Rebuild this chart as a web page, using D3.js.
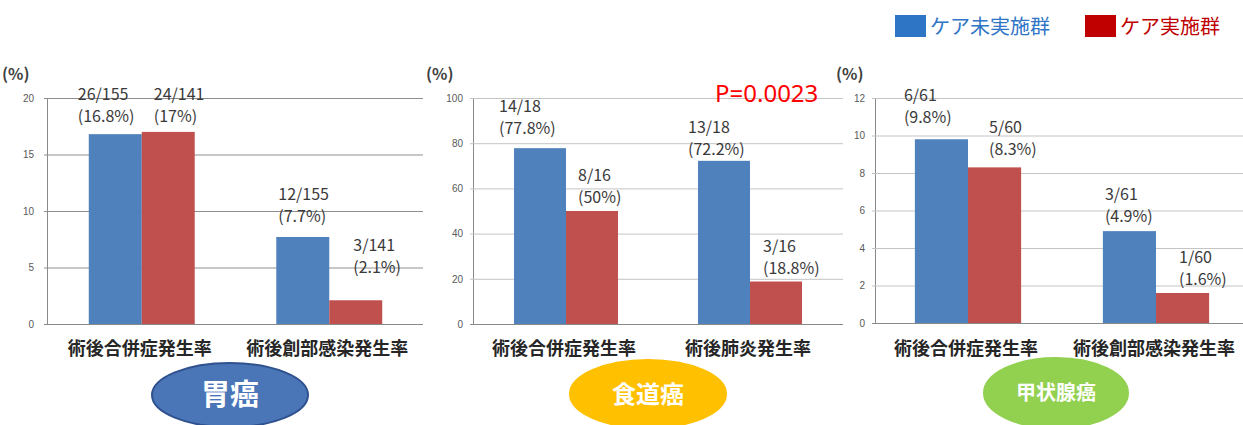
<!DOCTYPE html>
<html>
<head>
<meta charset="utf-8">
<script src="https://cdn.jsdelivr.net/npm/d3@7"></script>
<style>
  body { margin: 0; background: #fff; }
  svg { display: block; font-family: "Noto Sans CJK JP", "Noto Sans", sans-serif; }
</style>
</head>
<body>
<div id="chart"></div>
<script>
// data
const cancerNames = ["胃癌", "食道癌", "甲状腺癌"];
const categories = [
  ["術後合併症発生率", "術後創部感染発生率"],
  ["術後合併症発生率", "術後肺炎発生率"],
  ["術後合併症発生率", "術後創部感染発生率"]
];
const seriesNames = ["ケア未実施群", "ケア実施群"];
const noCareValues = [[16.8, 7.7], [77.8, 72.2], [9.8, 4.9]];
const careValues = [[17, 2.1], [50, 18.8], [8.3, 1.6]];
const noCareCounts = [["26/155", "12/155"], ["14/18", "13/18"], ["6/61", "3/61"]];
const careCounts = [["24/141", "3/141"], ["8/16", "3/16"], ["5/60", "1/60"]];
const yMaxes = [20, 100, 12];
const yTicks = [[0, 5, 10, 15, 20], [0, 20, 40, 60, 80, 100], [0, 2, 4, 6, 8, 10, 12]];
const pValueText = "P=0.0023";

// layout
const W = 1243, H = 425;
const panels = [
  { axisX: 47, gridR: 423, band: [48, 423], yTop: 98, yBot: 324, gridColor: "#8f8f8f", tickPad: 13 },
  { axisX: 473, gridR: 843, band: [474, 842], yTop: 98, yBot: 324, gridColor: "#c4c4c4", tickPad: 10 },
  { axisX: 875, gridR: 1243, band: [874, 1250], yTop: 98, yBot: 323, gridColor: "#c4c4c4", tickPad: 10 }
];
const pctLabelX = [2, 426, 836];
// label offsets [dx from bar left, dy of second line from bar top] for [noCare, care]
const labelOffsets = [
  [[[-11, -12], [12, -10]], [[2, -15], [24, -27]]],
  [[[-15, -14], [12, -8]], [[-10, -6], [13, -8]]],
  [[[-11, -16], [21, -12]], [[2, -9], [23, -8]]]
];
const ovals = [
  { cx: 230, cy: 395, rx: 78, ry: 32, fill: "#4a76b8", stroke: "#2f528f", size: 29 },
  { cx: 648, cy: 394, rx: 78, ry: 34, fill: "#ffc000", stroke: "#ffc000", size: 24 },
  { cx: 1056, cy: 393, rx: 72, ry: 35, fill: "#92d050", stroke: "#92d050", size: 20 }
];
const barColors = ["#4f81bd", "#c0504d"];
const legendColors = ["#2e75c6", "#c00000"];

const svg = d3.select("#chart").append("svg")
  .attr("width", W)
  .attr("height", H);

function pct(v) { return "(" + v + "%)"; }

panels.forEach((p, i) => {
  const g = svg.append("g");
  const y = d3.scaleLinear().domain([0, yMaxes[i]]).range([p.yBot, p.yTop]);
  const x = d3.scaleBand().domain(categories[i]).range(p.band)
    .paddingInner(0.435).paddingOuter(0.2175);
  const xs = d3.scaleBand().domain(seriesNames).range([0, x.bandwidth()]);

  // gridlines + tick labels
  const axis = d3.axisLeft(y).tickValues(yTicks[i])
    .tickSize(-(p.gridR - p.axisX)).tickSizeOuter(0).tickPadding(p.tickPad);
  const ag = g.append("g")
    .attr("transform", `translate(${p.axisX},0)`)
    .call(axis);
  ag.select(".domain").attr("stroke", "#8a8a8a");
  ag.selectAll(".tick line").attr("stroke", p.gridColor).attr("x1", -3);
  ag.selectAll(".tick").filter(d => d === 0).select("line").attr("stroke", "#8a8a8a");
  ag.selectAll(".tick text")
    .attr("fill", "#595959")
    .style("font-size", "10px")
    .style("font-family", "'Liberation Sans', Arial, sans-serif");

  g.append("text")
    .attr("x", pctLabelX[i]).attr("y", 80)
    .attr("fill", "#404040")
    .style("font-size", "16px").style("font-weight", "bold")
    .text("(%)");

  const rows = categories[i].map((c, j) => ({
    cat: c,
    vals: [noCareValues[i][j], careValues[i][j]],
    counts: [noCareCounts[i][j], careCounts[i][j]],
    offs: labelOffsets[i][j]
  }));

  rows.forEach(r => {
    seriesNames.forEach((s, k) => {
      const bx = x(r.cat) + xs(s);
      const by = y(r.vals[k]);
      g.append("rect")
        .attr("x", bx).attr("y", by)
        .attr("width", xs.bandwidth())
        .attr("height", y(0) - by)
        .attr("fill", barColors[k]);
      const lx = bx + r.offs[k][0];
      const ly = by + r.offs[k][1];
      const t = g.append("text")
        .attr("fill", "#3a3a3a")
        .style("font-size", "16px");
      t.append("tspan").attr("x", lx).attr("y", ly - 22).text(r.counts[k]);
      t.append("tspan").attr("x", lx).attr("y", ly).text(pct(r.vals[k]));
    });
    g.append("text")
      .attr("x", x(r.cat) + x.bandwidth() / 2 - 2)
      .attr("y", 355)
      .attr("text-anchor", "middle")
      .attr("fill", "#262626")
      .style("font-size", "18px").style("font-weight", "bold")
      .text(r.cat);
  });

  const o = ovals[i];
  svg.append("ellipse")
    .attr("cx", o.cx).attr("cy", o.cy)
    .attr("rx", o.rx).attr("ry", o.ry)
    .attr("fill", o.fill).attr("stroke", o.stroke).attr("stroke-width", 2);
  svg.append("text")
    .attr("x", o.cx).attr("y", o.cy + o.size * 0.36)
    .attr("text-anchor", "middle")
    .attr("fill", "#fff")
    .style("font-size", o.size + "px").style("font-weight", "bold")
    .text(cancerNames[i]);
});

// P value
svg.append("text")
  .attr("x", 715).attr("y", 102)
  .attr("fill", "#ff0000")
  .style("font-size", "24px")
  .style("font-family", "'Noto Sans', sans-serif")
  .text(pValueText);

// legend
const legendX = [895, 1085];
seriesNames.forEach((s, k) => {
  svg.append("rect")
    .attr("x", legendX[k]).attr("y", 15)
    .attr("width", 31).attr("height", 22)
    .attr("fill", legendColors[k]);
  svg.append("text")
    .attr("x", legendX[k] + 35).attr("y", 34)
    .attr("fill", legendColors[k])
    .style("font-size", "20px")
    .text(s);
});
</script>
</body>
</html>
